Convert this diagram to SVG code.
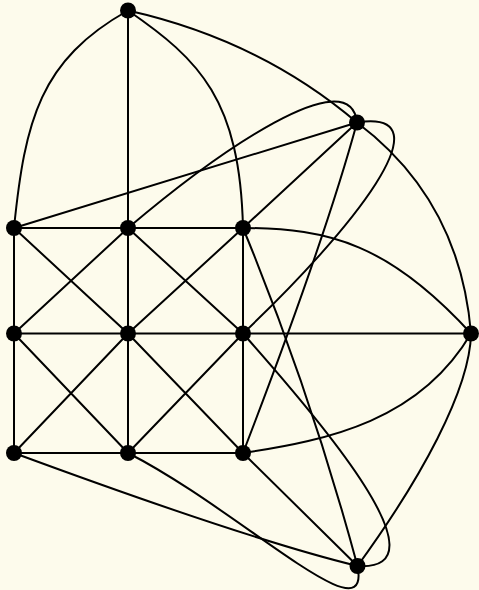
<svg xmlns="http://www.w3.org/2000/svg" width="479" height="590" viewBox="0 0 479 590">
<style>
.e{fill:none;stroke:#000;stroke-width:2;stroke-linecap:round}
.n{fill:#000}
</style>
<rect width="479" height="590" fill="#fdfbec"/>
<g id="connectors" class="e">
<path d="M14,228H243M14,333.5H471M14,453H243"/>
<path d="M14,228V453M128,10.5V453M243,228V453"/>
<path d="M14,228L128,333.5L243,453M128,228L14,333.5M128,228L243,333.5M243,228L128,333.5M14,333.5L128,453M128,333.5L14,453M243,333.5L128,453"/>
<path d="M14,228C25,120 40,60 128,10.5"/>
<path d="M128,10.5C200,60 240,100 243,228"/>
<path d="M128,10.5Q260,40 357,122.5"/>
<path d="M14,228L357,122.5"/>
<path d="M128,228C220,150 350,60 357,122.5"/>
<path d="M243,228L357,122.5"/>
<path d="M357,122.5C450,108 352,230 243,333.5"/>
<path d="M357,122.5Q325,240 243,453"/>
<path d="M357,122.5Q460,200 471,333.5"/>
<path d="M243,228C330,228 390,245 471,333.5"/>
<path d="M243,453C330,440 420,420 471,333.5"/>
<path d="M471,333.5C470,390 420,480 357.5,566"/>
<path d="M14,453Q250,540 357.5,566"/>
<path d="M128,453C240,510 372,640 357.5,566"/>
<path d="M243,453L357.5,566"/>
<path d="M243,228Q310,390 357.5,566"/>
<path d="M243,333.5C320,420 450,572 357.5,566"/>
</g>
<g id="A"><circle class="n" cx="128" cy="10.5" r="8"/></g>
<g id="B"><circle class="n" cx="357" cy="122.5" r="8"/></g>
<g id="C1"><circle class="n" cx="14" cy="228" r="8"/></g>
<g id="C2"><circle class="n" cx="128" cy="228" r="8"/></g>
<g id="C3"><circle class="n" cx="243" cy="228" r="8"/></g>
<g id="D1"><circle class="n" cx="14" cy="333.5" r="8"/></g>
<g id="D2"><circle class="n" cx="128" cy="333.5" r="8"/></g>
<g id="D3"><circle class="n" cx="243" cy="333.5" r="8"/></g>
<g id="E"><circle class="n" cx="471" cy="333.5" r="8"/></g>
<g id="F1"><circle class="n" cx="14" cy="453" r="8"/></g>
<g id="F2"><circle class="n" cx="128" cy="453" r="8"/></g>
<g id="F3"><circle class="n" cx="243" cy="453" r="8"/></g>
<g id="G"><circle class="n" cx="357.5" cy="566" r="8"/></g>
</svg>
